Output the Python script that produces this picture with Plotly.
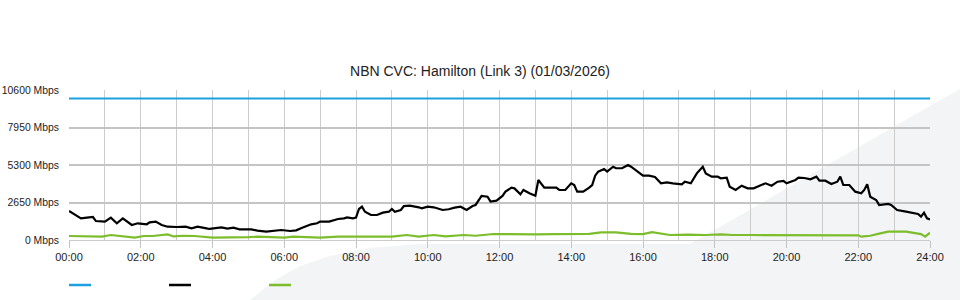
import plotly.graph_objects as go

# ---- data ----
title = "NBN CVC: Hamilton (Link 3) (01/03/2026)"

x_tick_labels = ["00:00", "02:00", "04:00", "06:00", "08:00", "10:00", "12:00",
                 "14:00", "16:00", "18:00", "20:00", "22:00", "24:00"]
y_tick_values = [0, 2650, 5300, 7950, 10600]
y_tick_labels = ["0 Mbps", "2650 Mbps", "5300 Mbps", "7950 Mbps", "10600 Mbps"]

capacity_times = ["00:00", "24:00"]
capacity_values = [10000, 10000]

traffic_times = [
    "00:00", "00:10", "00:20", "00:30", "00:40", "00:45", "01:00", "01:10", "01:20", "01:30",
    "01:45", "01:55", "02:10", "02:15", "02:25", "02:35", "02:45", "03:00", "03:15", "03:25",
    "03:35", "03:50", "03:55", "04:15", "04:25", "04:35", "04:45", "05:05", "05:15", "05:30",
    "05:40", "05:55", "06:10", "06:20", "06:30", "06:45", "06:55", "07:00", "07:15", "07:30",
    "07:40", "07:45", "07:55", "08:00", "08:05", "08:10", "08:15", "08:25", "08:35", "08:45",
    "08:55", "09:00", "09:05", "09:15", "09:20", "09:30", "09:45", "09:50", "10:00", "10:10",
    "10:25", "10:35", "10:45", "10:55", "11:05", "11:15", "11:20", "11:30", "11:40", "11:45",
    "11:55", "12:05", "12:10", "12:20", "12:25", "12:35", "12:40", "12:50", "13:00", "13:05",
    "13:15", "13:25", "13:35", "13:40", "13:50", "14:00", "14:05", "14:10", "14:20", "14:30",
    "14:35", "14:40", "14:45", "14:55", "15:00", "15:10", "15:15", "15:25", "15:35", "15:40",
    "15:50", "16:00", "16:10", "16:20", "16:30", "16:40", "16:50", "17:05", "17:10", "17:20",
    "17:30", "17:40", "17:45", "17:55", "18:05", "18:10", "18:20", "18:25", "18:35", "18:45",
    "18:55", "19:05", "19:15", "19:25", "19:35", "19:45", "19:55", "20:00", "20:15", "20:20",
    "20:30", "20:40", "20:50", "20:55", "21:05", "21:15", "21:25", "21:30", "21:35", "21:45",
    "21:55", "22:05", "22:10", "22:15", "22:20", "22:30", "22:35", "22:50", "22:55", "23:05",
    "23:20", "23:30", "23:40", "23:45", "23:50", "23:55", "24:00",
]
traffic_values = [
    2050, 1815, 1530, 1580, 1625, 1340, 1300, 1580, 1180, 1530,
    1060, 1180, 1110, 1250, 1300, 1060, 940, 920, 940, 825,
    940, 825, 780, 895, 800, 870, 755, 755, 660, 590,
    635, 705, 635, 685, 870, 1110, 1180, 1300, 1300, 1485,
    1530, 1600, 1530, 1580, 2190, 2355, 2000, 1765, 1765, 1930,
    2000, 2190, 2000, 2120, 2400, 2425, 2310, 2240, 2355, 2310,
    2120, 2170, 2285, 2355, 2120, 2400, 2475, 3110, 3060, 2710,
    2780, 3110, 3415, 3700, 3650, 3230, 3535, 3300, 3130, 4240,
    3700, 3700, 3700, 3535, 3535, 4005, 3885, 3415, 3415, 3700,
    3885, 4545, 4830, 5020, 4830, 5180, 5070, 5070, 5300, 5180,
    4830, 4545, 4545, 4450, 4005, 4075, 4005, 3935, 4120, 4005,
    4710, 5180, 4710, 4475, 4475, 4360, 4400, 3770, 3535, 3840,
    3650, 3650, 3840, 4005, 3840, 4120, 4170, 4005, 4240, 4400,
    4380, 4290, 4475, 4190, 4190, 3960, 4120, 4475, 3885, 3885,
    3415, 3300, 3535, 3935, 3060, 2830, 2475, 2545, 2475, 2120,
    2000, 1930, 1835, 1650, 1930, 1530, 1460,
]

upload_times = [
    "00:00", "00:30", "00:55", "01:10", "01:25", "01:50", "02:05", "02:20", "02:45", "02:55",
    "03:10", "03:30", "04:00", "04:30", "05:00", "05:15", "05:30", "06:00", "06:15", "06:45",
    "07:00", "07:30", "08:00", "08:30", "09:00", "09:25", "09:45", "10:10", "10:30", "11:00",
    "11:20", "11:50", "12:30", "13:00", "13:30", "14:00", "14:30", "14:50", "15:15", "15:40",
    "16:00", "16:15", "16:45", "17:15", "17:45", "18:10", "18:30", "19:00", "19:30", "19:55",
    "20:30", "21:00", "21:30", "22:00", "22:05", "22:20", "22:35", "22:50", "23:20", "23:30",
    "23:45", "23:52", "24:00",
]
upload_values = [
    283, 283, 235, 353, 283, 165, 283, 283, 400, 250,
    300, 283, 165, 165, 200, 235, 200, 165, 235, 200,
    165, 235, 235, 235, 235, 353, 235, 353, 260, 353,
    300, 425, 400, 400, 420, 400, 430, 540, 540, 430,
    420, 550, 353, 380, 353, 400, 353, 353, 353, 330,
    353, 353, 353, 330, 235, 300, 450, 590, 590, 520,
    420, 235, 515,
]


def to_hours(t):
    h, m = t.split(":")
    return int(h) + int(m) / 60.0


fig = go.Figure()

fig.add_trace(go.Scatter(x=[to_hours(t) for t in capacity_times], y=capacity_values,
                         mode="lines", line=dict(color="#1ca0e0", width=2.2),
                         hoverinfo="skip", showlegend=False))
fig.add_trace(go.Scatter(x=[to_hours(t) for t in upload_times], y=upload_values,
                         mode="lines", line=dict(color="#7cbd2b", width=2.2),
                         hoverinfo="skip", showlegend=False))
fig.add_trace(go.Scatter(x=[to_hours(t) for t in traffic_times], y=traffic_values,
                         mode="lines", line=dict(color="#000000", width=2.2),
                         hoverinfo="skip", showlegend=False))

# faint background watermark (decoration, pixel-based paper coords)
W, H = 960, 300
L, R, T, B = 69, 30, 90, 60
pw, ph = W - L - R, H - T - B


def px(x, y):
    return (x - L) / pw, (H - B - y) / ph


def path(points):
    parts = []
    for i, (x, y) in enumerate(points):
        u, v = px(x, y)
        parts.append(("M" if i == 0 else "L") + f"{u:.4f},{v:.4f}")
    return " ".join(parts) + " Z"


wm1 = [(250, 300), (275, 280), (300, 266), (330, 256), (370, 248), (420, 244),
       (690, 244), (930, 106), (960, 89), (960, 300)]
fig.add_shape(type="path", xref="paper", yref="paper", path=path(wm1),
              fillcolor="#f3f4f6", line=dict(width=0), layer="below")

# legend swatches (no text in the reference)
for i, c in enumerate(["#1ca0e0", "#000000", "#7cbd2b"]):
    x0, y0 = px(69 + 100 * i, 285)
    x1, _ = px(91 + 100 * i, 285)
    fig.add_shape(type="line", xref="paper", yref="paper", x0=x0, x1=x1, y0=y0, y1=y0,
                  line=dict(color=c, width=2.5))

fig.update_layout(
    width=W, height=H,
    margin=dict(l=L, r=R, t=T, b=B, pad=0, autoexpand=False),
    paper_bgcolor="white",
    plot_bgcolor="rgba(0,0,0,0)",
    font=dict(family="Liberation Sans, Arial, sans-serif", size=11, color="#222"),
    title=dict(text=title, x=0.5, xref="container", xanchor="center", y=1 - 71 / H, yanchor="middle",
               font=dict(size=14, color="#222")),
    showlegend=False,
)

fig.update_xaxes(
    range=[0, 24],
    tickmode="array",
    tickvals=[2 * i for i in range(len(x_tick_labels))],
    ticktext=x_tick_labels,
    ticks="outside", ticklen=7, tickcolor="#c4c4c4", tickwidth=1,
    showgrid=True, gridcolor="#cccccc", gridwidth=1,
    minor=dict(dtick=1, showgrid=True, gridcolor="#cccccc", gridwidth=1, tick0=0),
    showline=True, linecolor="#cccccc", linewidth=1,
    zeroline=False, fixedrange=True, automargin=False,
)
fig.update_yaxes(
    range=[0, 10600],
    tickmode="array",
    tickvals=y_tick_values,
    ticktext=y_tick_labels,
    tickfont=dict(size=10.4),
    ticks="", ticklabelstandoff=9,
    showgrid=True, gridcolor="#c4c4c4", gridwidth=2,
    zeroline=False, showline=False, fixedrange=True, automargin=False,
)

fig.write_html("out.html")
